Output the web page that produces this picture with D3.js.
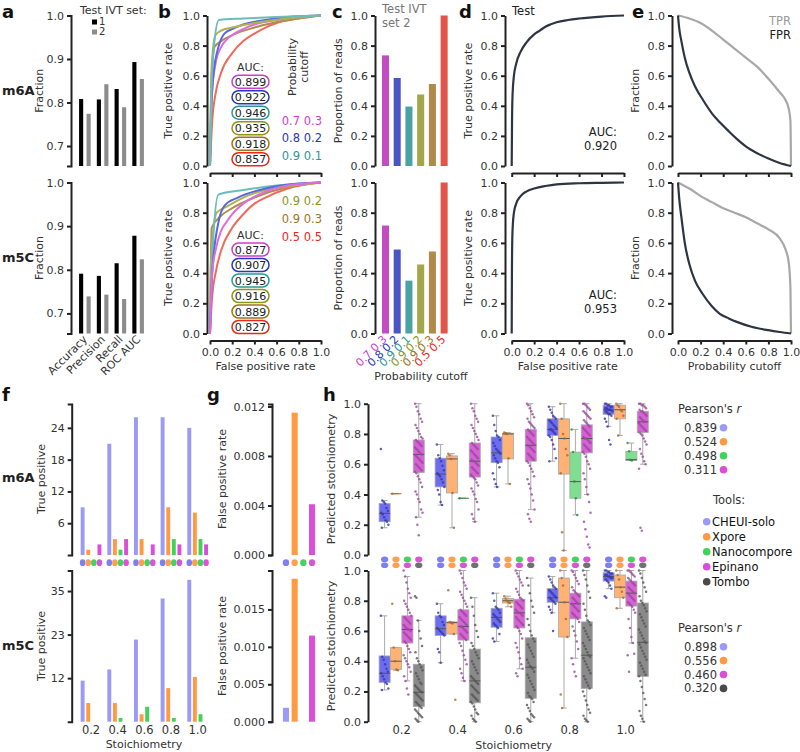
<!DOCTYPE html>
<html><head><meta charset="utf-8">
<script src="https://cdn.jsdelivr.net/npm/d3@7"></script>
<style>body{margin:0;background:#fff;} svg text{font-family:"DejaVu Sans",sans-serif;}</style>
</head><body>
<svg id="fig" width="800" height="752"></svg>
<script>
// ---------------- DATA ----------------
const metrics = ["Accuracy","Precision","Recall","ROC AUC"];
const ivtSets = ["1","2"];
const m6A_set1 = [0.808,0.807,0.831,0.893];
const m6A_set2 = [0.774,0.842,0.789,0.854];
const m5C_set1 = [0.791,0.786,0.815,0.878];
const m5C_set2 = [0.739,0.743,0.733,0.824];

const cutoffs = ["0.7 0.3","0.8 0.2","0.9 0.1","0.9 0.2","0.9 0.3","0.5 0.5"];
const aucB_m6A = [0.899,0.922,0.946,0.935,0.918,0.857];
const aucB_m5C = [0.877,0.907,0.945,0.916,0.889,0.827];
const propReads_m6A = [0.735,0.585,0.395,0.475,0.545,1.0];
const propReads_m5C = [0.715,0.556,0.350,0.457,0.543,1.0];

const rocB_m6A = [
 [[0,0],[0.005,0.2],[0.02,0.5],[0.05,0.68],[0.1,0.79],[0.15,0.84],[0.2,0.87],[0.3,0.91],[0.4,0.94],[0.6,0.97],[0.8,0.99],[1,1]],
 [[0,0],[0.01,0.35],[0.03,0.6],[0.08,0.8],[0.13,0.88],[0.2,0.91],[0.3,0.94],[0.5,0.97],[0.7,0.99],[1,1]],
 [[0,0],[0.01,0.4],[0.03,0.75],[0.08,0.97],[0.3,0.98],[0.6,0.99],[1,1]],
 [[0,0],[0.01,0.55],[0.02,0.72],[0.05,0.87],[0.1,0.9],[0.2,0.92],[0.4,0.95],[0.7,0.98],[1,1]],
 [[0,0],[0.01,0.5],[0.02,0.65],[0.04,0.79],[0.1,0.83],[0.2,0.87],[0.4,0.92],[0.7,0.97],[1,1]],
 [[0,0],[0.02,0.3],[0.05,0.48],[0.1,0.62],[0.2,0.75],[0.3,0.83],[0.4,0.88],[0.5,0.92],[0.6,0.95],[0.8,0.98],[1,1]]
];
const rocB_m5C = [
 [[0,0],[0.02,0.4],[0.05,0.55],[0.1,0.68],[0.15,0.74],[0.2,0.79],[0.3,0.86],[0.5,0.94],[0.7,0.98],[1,1]],
 [[0,0],[0.02,0.4],[0.08,0.75],[0.135,0.85],[0.25,0.9],[0.5,0.96],[0.75,0.99],[1,1]],
 [[0,0],[0.02,0.5],[0.075,0.92],[0.3,0.95],[0.6,0.98],[1,1]],
 [[0,0],[0.01,0.5],[0.06,0.8],[0.15,0.84],[0.3,0.9],[0.5,0.95],[0.75,0.98],[1,1]],
 [[0,0],[0.015,0.7],[0.1,0.78],[0.2,0.83],[0.4,0.9],[0.7,0.97],[1,1]],
 [[0,0],[0.02,0.25],[0.05,0.4],[0.1,0.55],[0.2,0.7],[0.3,0.79],[0.4,0.86],[0.5,0.9],[0.7,0.96],[1,1]]
];

const aucTest = ["0.920","0.953"];
const rocTest_m6A = [[0,0],[0.003,0.3],[0.008,0.48],[0.02,0.6],[0.04,0.68],[0.08,0.76],[0.13,0.82],[0.2,0.875],[0.25,0.9],[0.3,0.925],[0.4,0.955],[0.5,0.97],[0.6,0.98],[0.8,0.993],[1,1]];
const rocTest_m5C = [[0,0],[0.002,0.4],[0.005,0.62],[0.01,0.72],[0.02,0.8],[0.04,0.86],[0.08,0.91],[0.13,0.94],[0.2,0.96],[0.3,0.977],[0.4,0.988],[0.6,0.995],[0.8,0.998],[1,1]];

const tprE_m6A = [[0,1],[0.1,0.98],[0.2,0.95],[0.3,0.9],[0.4,0.84],[0.5,0.78],[0.6,0.72],[0.7,0.66],[0.8,0.58],[0.9,0.49],[0.95,0.44],[0.98,0.38],[0.995,0.3],[1,0]];
const fprE_m6A = [[0,1],[0.01,0.92],[0.03,0.83],[0.06,0.72],[0.1,0.62],[0.15,0.53],[0.22,0.44],[0.3,0.35],[0.37,0.29],[0.45,0.23],[0.52,0.18],[0.6,0.13],[0.7,0.085],[0.8,0.05],[0.9,0.02],[1,0]];
const tprE_m5C = [[0,1],[0.05,0.98],[0.1,0.96],[0.2,0.91],[0.3,0.87],[0.4,0.83],[0.5,0.8],[0.6,0.77],[0.7,0.73],[0.8,0.69],[0.9,0.63],[0.95,0.56],[0.98,0.47],[0.995,0.3],[1,0]];
const fprE_m5C = [[0,1],[0.01,0.9],[0.03,0.77],[0.06,0.6],[0.1,0.46],[0.15,0.35],[0.22,0.26],[0.3,0.18],[0.37,0.13],[0.45,0.1],[0.52,0.077],[0.65,0.045],[0.8,0.022],[0.9,0.01],[1,0]];

const stoich = [0.2,0.4,0.6,0.8,1.0];
const tools6A = ["CHEUI-solo","Xpore","Nanocompore","Epinano"];
const tools5C = ["CHEUI-solo","Xpore","Epinano","Tombo"];
const legendTools = ["CHEUI-solo","Xpore","Nanocompore","Epinano","Tombo"];

const tp6A_cheui = [9,21,26,26,24];
const tp6A_xpore = [1,3,3,9,8];
const tp6A_nano  = [0,1,0,3,3];
const tp6A_epi   = [2,3,2,2,2];
const tp5C_cheui = [11,14,22,33,38];
const tp5C_xpore = [5,5,2,9,12];
const tp5C_nano  = [0,1,4,1,2];
const tp5C_epi   = [0,0,0,0,0];
const tp6A_ticks = [6,12,18,24];
const tp5C_ticks = [35/3,70/3,35];

const fpr6A = [0,0.0115,0,0.0041];
const fpr5C = [0.00186,0.0191,0,0.0115];

const pearson6A = ["0.839","0.524","0.498","0.311"];
const pearson5C = ["0.898","0.556","0.460","0.320"];

// box stats: [low whisker, q1, median, q3, high whisker]
const box6A_cheui = [[0.18,0.22,0.275,0.34,0.36],[0.33,0.45,0.535,0.64,0.73],[0.45,0.61,0.675,0.78,0.92],[0.62,0.79,0.83,0.90,0.98],[0.85,0.93,0.96,0.99,1.0]];
const box6A_xpore = [[0.405,0.405,0.405,0.405,0.405],[0.18,0.41,0.635,0.655,0.67],[0.47,0.635,0.80,0.805,0.81],[0.03,0.535,0.77,0.90,1.0],[0.79,0.90,0.96,0.99,1.0]];
const box6A_nano  = [null,[0.375,0.375,0.375,0.375,0.375],null,[0.265,0.375,0.485,0.68,0.83],[0.625,0.625,0.63,0.685,0.74]];
const box6A_epi   = [[0.25,0.545,0.665,0.76,1.0],[0.22,0.515,0.62,0.74,1.0],[0.30,0.62,0.725,0.83,1.0],[0.40,0.675,0.77,0.86,1.0],[0.60,0.81,0.88,0.95,1.0]];
const box5C_cheui = [[0.21,0.26,0.32,0.435,0.70],[0.39,0.57,0.615,0.70,0.78],[0.53,0.625,0.69,0.75,0.85],[0.72,0.79,0.82,0.88,0.96],[0.88,0.93,0.96,0.985,1.0]];
const box5C_xpore = [[0.34,0.345,0.40,0.49,0.49],[0.58,0.58,0.655,0.66,0.66],[0.76,0.785,0.80,0.815,0.83],[0.09,0.56,0.79,0.95,1.0],[0.75,0.82,0.89,0.97,1.0]];
const box5C_epi   = [[0.27,0.52,0.61,0.70,0.96],[0.27,0.54,0.63,0.74,1.0],[0.35,0.62,0.72,0.81,1.0],[0.42,0.68,0.78,0.85,1.0],[0.52,0.765,0.85,0.93,1.0]];
const box5C_tombo = [[0.0,0.10,0.195,0.38,0.67],[0.0,0.125,0.27,0.48,0.82],[0.0,0.155,0.36,0.555,0.95],[0.0,0.22,0.44,0.66,1.0],[0.0,0.30,0.525,0.785,1.0]];

const pts6A_cheui = [
 [0.70,0.36,0.35,0.34,0.31,0.29,0.28,0.27,0.25,0.23,0.22,0.20,0.18],
 [0.73,0.66,0.64,0.62,0.59,0.56,0.54,0.53,0.52,0.50,0.48,0.45,0.43,0.40,0.35,0.33],
 [0.92,0.86,0.82,0.79,0.78,0.76,0.74,0.72,0.70,0.69,0.68,0.67,0.66,0.64,0.62,0.61,0.58,0.54,0.50,0.47,0.45],
 [0.98,0.96,0.94,0.92,0.91,0.90,0.89,0.88,0.87,0.86,0.85,0.84,0.83,0.83,0.82,0.81,0.80,0.79,0.78,0.76,0.73,0.70,0.64,0.62],
 [1.0,1.0,0.99,0.99,0.98,0.98,0.97,0.97,0.96,0.96,0.96,0.95,0.95,0.94,0.93,0.93,0.92,0.90,0.88,0.85,0.76,0.73]];
const pts6A_xpore = [[0.405],[0.67,0.66,0.635,0.41,0.18],[0.81,0.805,0.80,0.64,0.47],[1.0,0.9,0.8,0.77,0.7,0.66,0.54,0.15,0.03],[1.0,0.99,0.98,0.96,0.95,0.92,0.90,0.79]];
const pts6A_nano = [[],[0.375],[],[0.83,0.68,0.485,0.375,0.265],[0.74,0.685,0.63,0.625]];
const pts6A_epi = [
 [1.0,0.98,0.95,0.93,0.90,0.88,0.86,0.84,0.82,0.80,0.78,0.77,0.76,0.75,0.74,0.73,0.72,0.71,0.70,0.69,0.68,0.67,0.665,0.66,0.65,0.64,0.63,0.62,0.61,0.60,0.59,0.58,0.57,0.56,0.55,0.54,0.52,0.50,0.48,0.45,0.42,0.40,0.37,0.35,0.30,0.28,0.25,0.20,0.13],
 [1.0,0.97,0.95,0.92,0.90,0.88,0.86,0.84,0.82,0.80,0.78,0.76,0.74,0.73,0.72,0.71,0.70,0.69,0.68,0.67,0.66,0.65,0.64,0.63,0.62,0.62,0.61,0.60,0.59,0.58,0.57,0.56,0.55,0.54,0.53,0.52,0.51,0.50,0.48,0.46,0.44,0.42,0.40,0.37,0.35,0.30,0.27,0.24,0.22],
 [1.0,0.99,0.97,0.95,0.93,0.91,0.90,0.88,0.87,0.86,0.85,0.84,0.83,0.82,0.81,0.80,0.79,0.78,0.77,0.76,0.75,0.74,0.73,0.725,0.72,0.71,0.70,0.69,0.68,0.67,0.66,0.65,0.64,0.63,0.62,0.61,0.59,0.57,0.55,0.52,0.50,0.47,0.44,0.40,0.36,0.30,0.27,0.24,0.22],
 [1.0,1.0,0.99,0.98,0.97,0.96,0.95,0.94,0.93,0.92,0.91,0.90,0.89,0.88,0.87,0.86,0.85,0.84,0.83,0.82,0.81,0.80,0.79,0.78,0.77,0.77,0.76,0.75,0.74,0.73,0.72,0.71,0.70,0.69,0.68,0.67,0.65,0.62,0.60,0.57,0.54,0.50,0.45,0.40,0.35,0.28,0.22,0.17,0.12,0.07,0.05],
 [1.0,1.0,0.99,0.99,0.98,0.97,0.96,0.95,0.95,0.94,0.93,0.92,0.91,0.90,0.89,0.88,0.88,0.87,0.86,0.85,0.84,0.83,0.82,0.81,0.80,0.79,0.77,0.75,0.73,0.70,0.67,0.65,0.62,0.60,0.57,0.18,0.16]];
const pts5C_cheui = [
 [0.70,0.43,0.41,0.38,0.35,0.33,0.32,0.30,0.28,0.26,0.25,0.22,0.21],
 [0.78,0.72,0.70,0.69,0.66,0.64,0.62,0.61,0.60,0.59,0.58,0.57,0.48,0.46,0.39],
 [0.85,0.80,0.76,0.75,0.74,0.72,0.71,0.70,0.69,0.68,0.67,0.66,0.65,0.64,0.63,0.62,0.58,0.55,0.53],
 [0.96,0.94,0.92,0.90,0.89,0.88,0.87,0.86,0.85,0.84,0.83,0.82,0.82,0.81,0.80,0.79,0.78,0.76,0.74,0.72,0.60],
 [1.0,1.0,0.99,0.99,0.98,0.98,0.97,0.97,0.96,0.96,0.95,0.95,0.94,0.93,0.92,0.90,0.88,0.83,0.82]];
const pts5C_xpore = [[0.78,0.49,0.40,0.345,0.34],[0.87,0.66,0.655,0.65,0.58,0.145],[0.83,0.815,0.80,0.79,0.785,0.76],[1.0,0.95,0.9,0.79,0.68,0.56,0.18,0.09],[1.0,0.97,0.94,0.89,0.86,0.82,0.75]];
const pts5C_epi = [
 [1.0,0.96,0.92,0.88,0.85,0.82,0.80,0.78,0.76,0.74,0.72,0.70,0.69,0.68,0.67,0.66,0.65,0.64,0.63,0.62,0.61,0.61,0.60,0.59,0.58,0.57,0.56,0.55,0.54,0.53,0.52,0.50,0.48,0.46,0.44,0.42,0.40,0.38,0.36,0.33,0.30,0.27,0.22,0.18],
 [1.0,0.98,0.95,0.92,0.90,0.88,0.86,0.84,0.82,0.80,0.78,0.76,0.74,0.73,0.72,0.71,0.70,0.69,0.68,0.67,0.66,0.65,0.64,0.63,0.63,0.62,0.61,0.60,0.59,0.58,0.57,0.56,0.55,0.54,0.52,0.50,0.47,0.44,0.41,0.38,0.35,0.32,0.29,0.27],
 [1.0,0.98,0.96,0.94,0.92,0.90,0.88,0.86,0.84,0.82,0.81,0.80,0.79,0.78,0.77,0.76,0.75,0.74,0.73,0.72,0.72,0.71,0.70,0.69,0.68,0.67,0.66,0.65,0.64,0.63,0.62,0.60,0.58,0.55,0.52,0.49,0.46,0.42,0.38,0.35,0.32,0.30],
 [1.0,0.99,0.97,0.95,0.93,0.91,0.89,0.87,0.86,0.85,0.84,0.83,0.82,0.81,0.80,0.79,0.78,0.78,0.77,0.76,0.75,0.74,0.73,0.72,0.71,0.70,0.69,0.68,0.66,0.63,0.60,0.57,0.53,0.48,0.42,0.38,0.33,0.30],
 [1.0,1.0,0.99,0.98,0.97,0.96,0.95,0.94,0.93,0.92,0.91,0.90,0.89,0.88,0.87,0.86,0.85,0.85,0.84,0.83,0.82,0.81,0.80,0.79,0.78,0.77,0.76,0.74,0.72,0.68,0.62,0.56,0.52,0.45,0.44,0.33]];
const pts5C_tombo = [
 [0.83,0.82,0.67,0.60,0.55,0.50,0.46,0.42,0.40,0.38,0.36,0.34,0.32,0.30,0.28,0.26,0.25,0.24,0.23,0.22,0.21,0.20,0.195,0.19,0.18,0.17,0.16,0.15,0.14,0.13,0.12,0.11,0.10,0.09,0.08,0.07,0.06,0.05,0.04,0.03,0.02,0.01,0.0],
 [0.82,0.76,0.70,0.64,0.60,0.56,0.52,0.50,0.48,0.46,0.44,0.42,0.40,0.38,0.36,0.34,0.32,0.30,0.29,0.28,0.27,0.26,0.25,0.24,0.23,0.22,0.21,0.20,0.19,0.18,0.17,0.16,0.15,0.14,0.13,0.12,0.10,0.08,0.06,0.05,0.04,0.02,0.01,0.0],
 [0.95,0.90,0.85,0.80,0.76,0.72,0.68,0.64,0.60,0.57,0.55,0.53,0.51,0.49,0.47,0.45,0.43,0.41,0.39,0.37,0.36,0.35,0.33,0.31,0.29,0.27,0.25,0.23,0.21,0.19,0.17,0.16,0.15,0.13,0.11,0.09,0.07,0.05,0.04,0.03,0.02,0.01,0.0],
 [1.0,0.97,0.94,0.90,0.86,0.82,0.78,0.74,0.70,0.67,0.66,0.64,0.62,0.60,0.58,0.56,0.54,0.52,0.50,0.48,0.46,0.44,0.43,0.42,0.40,0.38,0.36,0.34,0.32,0.30,0.28,0.26,0.24,0.22,0.20,0.17,0.14,0.11,0.08,0.06,0.04,0.02,0.01,0.0],
 [1.0,0.98,0.95,0.92,0.89,0.86,0.83,0.80,0.785,0.77,0.75,0.73,0.71,0.69,0.67,0.65,0.63,0.61,0.59,0.57,0.55,0.53,0.52,0.51,0.49,0.47,0.45,0.43,0.41,0.39,0.37,0.35,0.33,0.31,0.30,0.27,0.23,0.19,0.15,0.11,0.07,0.04,0.02,0.0]];

// ---------------- STYLE ----------------
const svg = d3.select("#fig");
const FONT = "DejaVu Sans, sans-serif";
const DARK = "#222", TXT = "#333";
const cutCol  = ["#cc3fcc","#2a38b8","#2a9898","#8c961c","#a0741c","#e8281c"];
const curveCol= ["#dd6ddd","#5a68de","#6cbcbc","#b0b24c","#b08c4c","#ee6a5a"];
const barCol  = ["#c24cc2","#4a55c2","#4aa2a2","#a2a84a","#b08a4a","#e2554a"];
const toolCol = {"CHEUI-solo":"#9b9bf5","Xpore":"#ff9a40","Nanocompore":"#3fd35a","Epinano":"#d94fd9","Tombo":"#4a4a4a"};
const boxFill = {"CHEUI-solo":"#6c6cee","Xpore":"#ffb274","Nanocompore":"#80de90","Epinano":"#d662d6","Tombo":"#8a8a8a"};
const ptCol   = {"CHEUI-solo":"#3636aa","Xpore":"#a8682c","Nanocompore":"#2a8a3e","Epinano":"#984a98","Tombo":"#545454"};
const markCol = {"CHEUI-solo":"#7f7ff2","Xpore":"#ffa050","Nanocompore":"#48d060","Epinano":"#d855d8","Tombo":"#707070"};

function styleAxis(g, fs){
  g.selectAll("path.domain").attr("stroke",DARK).attr("stroke-width",2);
  g.selectAll(".tick line").attr("stroke",DARK).attr("stroke-width",2);
  g.selectAll("text").attr("font-family",FONT).attr("font-size",fs||11).attr("fill",TXT);
}
function yAxis(x, scale, ticks, fmt, outer){
  const g = svg.append("g").attr("transform",`translate(${x},0)`)
    .call(d3.axisLeft(scale).tickValues(ticks).tickFormat(fmt).tickSize(4).tickSizeOuter(outer||0).tickPadding(3));
  styleAxis(g); return g;
}
function xAxis(y, scale, ticks, labels){
  const g = svg.append("g").attr("transform",`translate(0,${y})`)
    .call(d3.axisBottom(scale).tickValues(ticks).tickFormat(labels?d3.format(".1f"):"").tickSize(4).tickSizeOuter(0).tickPadding(4));
  styleAxis(g); return g;
}
function text(x,y,s,o){
  o=o||{};
  const t = svg.append("text").attr("x",x).attr("y",y).text(s)
    .attr("font-size",o.fs||11).attr("fill",o.fill||TXT)
    .attr("text-anchor",o.anchor||"start").attr("font-weight",o.bold?"bold":"normal");
  if(o.rot) t.attr("transform",`rotate(${o.rot},${x},${y})`);
  return t;
}
function ylabel(x,y,s){ return text(x,y,s,{anchor:"middle",rot:-90}).attr("dominant-baseline","middle"); }
const fmt1 = d3.format(".1f");
const ticks01 = [0,0.2,0.4,0.6,0.8,1.0];

// ---------------- PANEL A ----------------
const xA = d3.scaleBand().domain(metrics).range([76,147]);
const xAsub = d3.scaleBand().domain(ivtSets).range([-5.8,5.8]).paddingInner(0.45);
const aCols = {"1":"#000","2":"#8c8c8c"};
[[m6A_set1,m6A_set2,[166,15.5]],[m5C_set1,m5C_set2,[333.5,182.5]]].forEach(([s1,s2,rng],pi)=>{
  const y = d3.scaleLinear().domain([0.654,1]).range(rng);
  yAxis(71, y, [0.7,0.8,0.9,1.0], fmt1, 4);
  metrics.forEach((m,i)=>{
    [[ "1", s1[i]],["2", s2[i]]].forEach(([k,v])=>{
      svg.append("rect").attr("x", xA(m)+xA.bandwidth()/2+xAsub(k)).attr("width",xAsub.bandwidth())
        .attr("y", y(v)).attr("height", y(0.654)-y(v)).attr("fill",aCols[k]);
    });
  });
  ylabel(40,(rng[0]+rng[1])/2,"Fraction");
});
metrics.forEach(m=> text(xA(m)+xA.bandwidth()/2+3, 340, m, {anchor:"end", rot:-45, fs:11}));
text(80,14,"Test IVT set:",{fs:11});
ivtSets.forEach((k,i)=>{
  svg.append("rect").attr("x",92).attr("y",19.5+i*10).attr("width",5).attr("height",5).attr("fill",aCols[k]);
  text(99,25+i*10,k,{fs:10});
});
text(2,95,"m6A",{bold:true,fs:13,fill:"#222"});
text(2,262,"m5C",{bold:true,fs:13,fill:"#222"});

// ---------------- PANEL B ----------------
const xB = d3.scaleLinear().domain([0,1]).range([210,321]);
[[rocB_m6A,aucB_m6A,[166,15.5],173,false],[rocB_m5C,aucB_m5C,[333.5,182.5],340.5,true]].forEach(([rocs,aucs,rng,xay,lab],pi)=>{
  const y = d3.scaleLinear().domain([0,1]).range(rng);
  yAxis(207, y, ticks01, fmt1);
  xAxis(xay, xB, ticks01, lab);
  const line = d3.line().x(d=>xB(d[0])).y(d=>y(d[1])).curve(d3.curveMonotoneX);
  const order = pi===0 ? [5,4,0,1,3,2] : [5,4,3,2,1,0];
  order.forEach(i=> svg.append("path").attr("d",line(rocs[i])).attr("fill","none")
     .attr("stroke",curveCol[i]).attr("stroke-width",2));
  ylabel(169,(rng[0]+rng[1])/2,"True positive rate");
  const c0 = pi===0 ? 81.7 : 249.5;
  text(250.5, c0-11, "AUC:", {anchor:"middle"});
  aucs.forEach((v,i)=>{
    const cy = c0 + i*15.5;
    svg.append("rect").attr("x",232).attr("y",cy-6.5).attr("width",37).attr("height",13).attr("rx",6.5)
      .attr("fill","#fff").attr("stroke",cutCol[i]).attr("stroke-width",1.5);
    text(250.5, cy+4, d3.format(".3f")(v), {anchor:"middle", fill:"#222"});
  });
});
text(265.5,370,"False positive rate",{anchor:"middle"});
ylabel(293,67,"Probability");
ylabel(305,67,"cutoff");
[0,1,2].forEach((i,k)=> text(322,124.5+k*17.5,cutoffs[i],{anchor:"end",fill:cutCol[i],fs:11.5}));
[3,4,5].forEach((i,k)=> text(322,205+k*18,cutoffs[i],{anchor:"end",fill:cutCol[i],fs:11.5}));

// ---------------- PANEL C ----------------
const xC = d3.scaleBand().domain(cutoffs).range([379.6,450]).paddingInner(0.4).paddingOuter(0.2);
[[propReads_m6A,[166,15.5]],[propReads_m5C,[333.5,182.5]]].forEach(([vals,rng])=>{
  const y = d3.scaleLinear().domain([0,1]).range(rng);
  yAxis(375, y, ticks01, fmt1);
  cutoffs.forEach((c,i)=> svg.append("rect").attr("x",xC(c)).attr("width",xC.bandwidth())
     .attr("y",y(vals[i])).attr("height",y(0)-y(vals[i])).attr("fill",barCol[i]));
  ylabel(339,(rng[0]+rng[1])/2,"Proportion of reads");
});
cutoffs.forEach((c,i)=> text(xC(c)+xC.bandwidth()/2+2, 340, c, {anchor:"end",rot:-45,fill:cutCol[i],fs:11}));
text(421,380,"Probability cutoff",{anchor:"middle"});
text(382,13,"Test IVT",{fill:"#777",fs:11.5});
text(382,27,"set 2",{fill:"#777",fs:11.5});

// ---------------- PANEL D ----------------
const xD = d3.scaleLinear().domain([0,1]).range([511.7,624]);
[[rocTest_m6A,[166,15.5],173,false,136],[rocTest_m5C,[333.5,182.5],340.5,true,299]].forEach(([roc,rng,xay,lab,ay],pi)=>{
  const y = d3.scaleLinear().domain([0,1]).range(rng);
  yAxis(505, y, ticks01, fmt1);
  xAxis(xay, xD, ticks01, lab);
  const line = d3.line().x(d=>xD(d[0])).y(d=>y(d[1])).curve(d3.curveMonotoneX);
  svg.append("path").attr("d",line(roc)).attr("fill","none").attr("stroke","#2e3542").attr("stroke-width",2.2);
  ylabel(469,(rng[0]+rng[1])/2,"True positive rate");
  text(617,ay,"AUC:",{anchor:"end",fs:11.5,fill:"#222"});
  text(617,ay+14,aucTest[pi],{anchor:"end",fs:11.5,fill:"#222"});
});
text(567.8,370,"False positive rate",{anchor:"middle"});
text(512,15,"Test",{fs:11.5,fill:"#222"});

// ---------------- PANEL E ----------------
const xE = d3.scaleLinear().domain([0,1]).range([678,791]);
[[tprE_m6A,fprE_m6A,[166,15.5],173,false],[tprE_m5C,fprE_m5C,[333.5,182.5],340.5,true]].forEach(([tpr,fpr,rng,xay,lab])=>{
  const y = d3.scaleLinear().domain([0,1]).range(rng);
  yAxis(672, y, ticks01, fmt1);
  xAxis(xay, xE, ticks01, lab);
  const line = d3.line().x(d=>xE(d[0])).y(d=>y(d[1])).curve(d3.curveMonotoneX);
  svg.append("path").attr("d",line(tpr)).attr("fill","none").attr("stroke","#a8a8a8").attr("stroke-width",2.2);
  svg.append("path").attr("d",line(fpr)).attr("fill","none").attr("stroke","#2e3542").attr("stroke-width",2.2);
  ylabel(636,(rng[0]+rng[1])/2,"Fraction");
});
text(734.5,370,"Probability cutoff",{anchor:"middle"});
text(791,25,"TPR",{anchor:"end",fill:"#9a9a9a",fs:11.5});
text(791,38.5,"FPR",{anchor:"end",fill:"#222",fs:11.5});

// panel letters
[["a",2,18],["b",158,18],["c",332,18],["d",459,18],["e",632,18],["f",2,401],["g",207,401],["h",323,401]]
  .forEach(([l,x,y])=> text(x,y,l,{bold:true,fs:18,fill:"#111"}));

// ---------------- PANEL F ----------------
const xF = d3.scaleBand().domain(stoich).range([77.7,211]);
const slotF = d3.scaleBand().domain(tools6A).range([-11.2,11.2]).paddingInner(0.3).paddingOuter(0.15);
const yF1 = d3.scaleLinear().domain([0,28.5]).range([555,404]);
const yF2 = d3.scaleLinear().domain([0,40.5]).range([721.7,570.5]);
yAxis(71.7, yF1, tp6A_ticks, d3.format("d"), 4);
yAxis(71.7, yF2, tp5C_ticks, d3.format(".0f"), 4);
const tp6A = [tp6A_cheui,tp6A_xpore,tp6A_nano,tp6A_epi];
const tp5C = [tp5C_cheui,tp5C_xpore,tp5C_nano,tp5C_epi];
[[tp6A,yF1],[tp5C,yF2]].forEach(([sets,y])=>{
  tools6A.forEach((t,ti)=> stoich.forEach((s,si)=>{
    const v = sets[ti][si]; if(!v) return;
    svg.append("rect").attr("x",xF(s)+xF.step()/2+slotF(t)).attr("width",slotF.bandwidth())
      .attr("y",y(v)).attr("height",y(0)-y(v)).attr("fill",toolCol[t]);
  }));
});
stoich.forEach(s=> tools6A.forEach(t=> svg.append("ellipse").attr("cx",xF(s)+xF.step()/2+slotF(t)+slotF.bandwidth()/2)
   .attr("cy",562.7).attr("rx",2.8).attr("ry",3.4).attr("fill",markCol[t])));
ylabel(42,479,"True positive");
ylabel(42,646,"True positive");
stoich.forEach(s=> text(xF(s)+xF.step()/2, 734, fmt1(s), {anchor:"middle",fs:11.5}));
text(144,748,"Stoichiometry",{anchor:"middle"});
text(2,482,"m6A",{bold:true,fs:13,fill:"#222"});
text(2,650,"m5C",{bold:true,fs:13,fill:"#222"});

// ---------------- PANEL G ----------------
const xG = d3.scaleBand().domain(tools6A).range([281.6,316.4]).paddingInner(0.3).paddingOuter(0.15);
const yG1 = d3.scaleLinear().domain([0,0.0122]).range([555,404]);
const yG2 = d3.scaleLinear().domain([0,0.0202]).range([721.7,570.5]);
yAxis(272, yG1, [0,0.004,0.008,0.012], d3.format(".3f"), 4);
yAxis(272, yG2, [0,0.005,0.010,0.015], d3.format(".3f"), 4);
[[fpr6A,yG1],[fpr5C,yG2]].forEach(([vals,y])=>{
  tools6A.forEach((t,i)=>{ const v=vals[i]; if(!v) return;
    svg.append("rect").attr("x",xG(t)).attr("width",xG.bandwidth()).attr("y",y(v)).attr("height",y(0)-y(v)).attr("fill",toolCol[t]); });
});
tools6A.forEach(t=> svg.append("ellipse").attr("cx",xG(t)+xG.bandwidth()/2).attr("cy",562.7).attr("rx",3.2).attr("ry",3.4).attr("fill",markCol[t]));
ylabel(223,479,"False positive rate");
ylabel(223,646,"False positive rate");

// ---------------- PANEL H ----------------
const xH = d3.scaleBand().domain(stoich).range([373.7,653.7]);
const slotH = d3.scaleBand().domain([0,1,2,3]).range([-22.6,22.6]).paddingInner(0.03);
const yH1 = d3.scaleLinear().domain([0,1]).range([555,403.7]);
const yH2 = d3.scaleLinear().domain([0,1]).range([721.7,570.5]);
yAxis(368, yH1, ticks01, fmt1);
yAxis(368, yH2, ticks01, fmt1);
const jit = i => (((i*37)%17)/16 - 0.5);
function drawBoxes(y, tools, boxes, pts){
  tools.forEach((t,ti)=> stoich.forEach((s,si)=>{
    const b = boxes[ti][si]; if(!b) return;
    const cx = xH(s)+xH.step()/2 + slotH(ti) + slotH.bandwidth()/2;
    const w = slotH.bandwidth();
    const g = svg.append("g");
    g.append("line").attr("x1",cx).attr("x2",cx).attr("y1",y(b[0])).attr("y2",y(b[4])).attr("stroke","#aaa").attr("stroke-width",1);
    [b[0],b[4]].forEach(v=> g.append("line").attr("x1",cx-w/4).attr("x2",cx+w/4).attr("y1",y(v)).attr("y2",y(v)).attr("stroke","#aaa").attr("stroke-width",1));
    if(b[3]>b[1]) g.append("rect").attr("x",cx-w/2).attr("width",w).attr("y",y(b[3])).attr("height",y(b[1])-y(b[3]))
       .attr("fill",boxFill[t]).attr("stroke","#a8a8a8").attr("stroke-width",0.8);
    g.append("line").attr("x1",cx-w/2).attr("x2",cx+w/2).attr("y1",y(b[2])).attr("y2",y(b[2]))
       .attr("stroke", b[3]>b[1] ? "#555" : ptCol[t]).attr("stroke-width",1);
    pts[ti][si].forEach((v,i)=> g.append("circle").attr("cx",cx+jit(i)*7.5).attr("cy",y(v)).attr("r",1.25)
       .attr("fill",ptCol[t]).attr("fill-opacity",0.8));
  }));
}
drawBoxes(yH1, tools6A, [box6A_cheui,box6A_xpore,box6A_nano,box6A_epi], [pts6A_cheui,pts6A_xpore,pts6A_nano,pts6A_epi]);
drawBoxes(yH2, tools5C, [box5C_cheui,box5C_xpore,box5C_epi,box5C_tombo], [pts5C_cheui,pts5C_xpore,pts5C_epi,pts5C_tombo]);
stoich.forEach(s=> [0,1,2,3].forEach(k=>{
  const cx = xH(s)+xH.step()/2+slotH(k)+slotH.bandwidth()/2;
  svg.append("ellipse").attr("cx",cx).attr("cy",559.4).attr("rx",3.6).attr("ry",2.8).attr("fill",markCol[tools6A[k]]);
  svg.append("ellipse").attr("cx",cx).attr("cy",565.2).attr("rx",3.6).attr("ry",2.8).attr("fill",markCol[tools5C[k]]);
}));
ylabel(332,479,"Predicted stoichiometry");
ylabel(332,646,"Predicted stoichiometry");
stoich.forEach(s=> text(xH(s)+xH.step()/2, 734, fmt1(s), {anchor:"middle",fs:11.5}));
text(513.7,749,"Stoichiometry",{anchor:"middle"});

// ---------------- LEGENDS ----------------
function pearsonTitle(y){
  const t = text(678,y,"Pearson's ",{fs:11.5});
  t.append("tspan").attr("font-style","italic").text("r");
}
pearsonTitle(413);
pearson6A.forEach((v,i)=>{ const cy=427.7+i*14;
  text(717,cy+4,v,{anchor:"end",fs:11.5});
  svg.append("circle").attr("cx",723.5).attr("cy",cy).attr("r",3.8).attr("fill",toolCol[tools6A[i]]); });
text(713,504,"Tools:",{fs:11.5});
legendTools.forEach((t,i)=>{ const cy=521.7+i*15;
  svg.append("circle").attr("cx",706.7).attr("cy",cy).attr("r",3.8).attr("fill",toolCol[t]);
  text(712,cy+4,t,{fs:11.5,fill:"#111"}); });
pearsonTitle(632);
pearson5C.forEach((v,i)=>{ const cy=646.7+i*13.9;
  text(717,cy+4,v,{anchor:"end",fs:11.5});
  svg.append("circle").attr("cx",723.5).attr("cy",cy).attr("r",3.8).attr("fill",toolCol[tools5C[i]]); });
</script></body></html>
